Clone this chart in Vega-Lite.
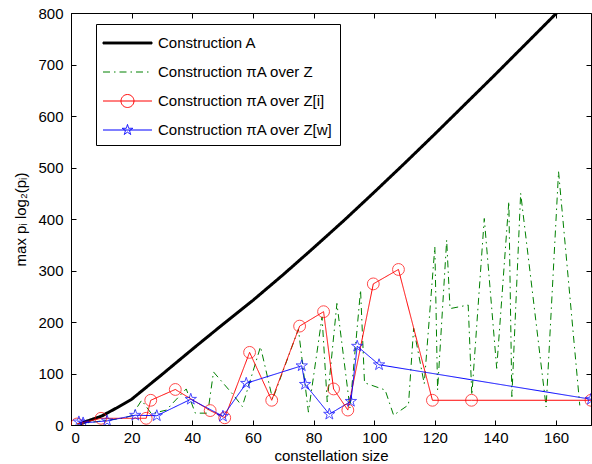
{
  "$schema": "https://vega.github.io/schema/vega-lite/v6.json",
  "width": 520,
  "height": 412,
  "autosize": "none",
  "padding": {"left": 71, "top": 13, "right": 1, "bottom": 39},
  "background": "white",
  "config": {
    "font": "Liberation Sans",
    "view": {"stroke": "black", "strokeWidth": 1},
    "axis": {"labelFontSize": 15, "titleFontSize": 15, "titleFontWeight": "normal", "labelColor": "black", "titleColor": "black", "tickColor": "black", "domainColor": "black", "grid": false, "tickSize": -5}
  },
  "data": {"values": [
    {"k":"A","x":3,"y":2},{"k":"A","x":5,"y":7},{"k":"A","x":10,"y":17},{"k":"A","x":15,"y":33},{"k":"A","x":20,"y":50},{"k":"A","x":30,"y":98},{"k":"A","x":40,"y":147},{"k":"A","x":50,"y":195},{"k":"A","x":60,"y":242},{"k":"A","x":70,"y":292},{"k":"A","x":80,"y":344},{"k":"A","x":90,"y":397},{"k":"A","x":100,"y":452},{"k":"A","x":110,"y":508},{"k":"A","x":120,"y":565},{"k":"A","x":130,"y":623},{"k":"A","x":140,"y":681},{"k":"A","x":150,"y":740},{"k":"A","x":160,"y":799},{"k":"A","x":170,"y":858},
    {"k":"Z","x":2,"y":2},{"k":"Z","x":5,"y":4},{"k":"Z","x":9,"y":7},{"k":"Z","x":13,"y":10},{"k":"Z","x":17,"y":13},{"k":"Z","x":20,"y":18},{"k":"Z","x":23.3,"y":48},{"k":"Z","x":26.5,"y":22},{"k":"Z","x":31.5,"y":29},{"k":"Z","x":33,"y":39},{"k":"Z","x":38,"y":70},{"k":"Z","x":41,"y":23},{"k":"Z","x":45.1,"y":23},{"k":"Z","x":47,"y":103},{"k":"Z","x":53.6,"y":58},{"k":"Z","x":56.5,"y":36},{"k":"Z","x":62.5,"y":152},{"k":"Z","x":66.5,"y":50},{"k":"Z","x":75,"y":186},{"k":"Z","x":78.3,"y":25},{"k":"Z","x":82.8,"y":210},{"k":"Z","x":84.5,"y":45},{"k":"Z","x":87.7,"y":236},{"k":"Z","x":92,"y":33},{"k":"Z","x":95.5,"y":262},{"k":"Z","x":96.8,"y":82},{"k":"Z","x":103.6,"y":68},{"k":"Z","x":106.4,"y":19},{"k":"Z","x":111.3,"y":39},{"k":"Z","x":113,"y":188},{"k":"Z","x":116.5,"y":80},{"k":"Z","x":120,"y":346},{"k":"Z","x":120.9,"y":68},{"k":"Z","x":123.9,"y":359},{"k":"Z","x":125,"y":226},{"k":"Z","x":131,"y":233},{"k":"Z","x":132.2,"y":58},{"k":"Z","x":136.3,"y":401},{"k":"Z","x":140.4,"y":110},{"k":"Z","x":144.4,"y":434},{"k":"Z","x":145.4,"y":55},{"k":"Z","x":148.3,"y":450},{"k":"Z","x":156.7,"y":35},{"k":"Z","x":160.8,"y":492},{"k":"Z","x":167.8,"y":38},
    {"k":"Zi","x":2,"y":2},{"k":"Zi","x":9.9,"y":13},{"k":"Zi","x":24.8,"y":13},{"k":"Zi","x":26.3,"y":48},{"k":"Zi","x":34.4,"y":69},{"k":"Zi","x":45.9,"y":28},{"k":"Zi","x":50.7,"y":14},{"k":"Zi","x":58.9,"y":141},{"k":"Zi","x":66.2,"y":48},{"k":"Zi","x":75.4,"y":192},{"k":"Zi","x":83.3,"y":220},{"k":"Zi","x":86.6,"y":70},{"k":"Zi","x":91.3,"y":29},{"k":"Zi","x":99.7,"y":274},{"k":"Zi","x":108,"y":302},{"k":"Zi","x":119.2,"y":48},{"k":"Zi","x":132.1,"y":48},{"k":"Zi","x":171.5,"y":48},
    {"k":"Zw","x":2.6,"y":6},{"k":"Zw","x":4,"y":4},{"k":"Zw","x":11.9,"y":8},{"k":"Zw","x":21.2,"y":19},{"k":"Zw","x":28.3,"y":18},{"k":"Zw","x":39.5,"y":50},{"k":"Zw","x":50.1,"y":17},{"k":"Zw","x":57.8,"y":81},{"k":"Zw","x":76.1,"y":115},{"k":"Zw","x":77.2,"y":79},{"k":"Zw","x":85.2,"y":21},{"k":"Zw","x":92.3,"y":46},{"k":"Zw","x":94.4,"y":153},{"k":"Zw","x":101.6,"y":117},{"k":"Zw","x":171.5,"y":50}
  ]},
  "resolve": {"axis": {"x": "independent", "y": "independent"}},
  "layer": [
    {
      "mark": {"type": "line", "clip": true},
      "encoding": {
        "x": {"field": "x", "type": "quantitative", "scale": {"domain": [0, 171.5], "nice": false, "zero": false},
              "axis": {"orient": "bottom", "values": [0,20,40,60,80,100,120,140,160], "labelPadding": 10, "title": "constellation size", "titlePadding": 3}},
        "y": {"field": "y", "type": "quantitative", "scale": {"domain": [0, 800], "nice": false},
              "axis": {"orient": "left", "values": [0,100,200,300,400,500,600,700,800], "labelPadding": 13, "title": "max pᵢ log₂(pᵢ)", "titlePadding": 9}},
        "color": {"field": "k", "type": "nominal",
          "scale": {"domain": ["A","Z","Zi","Zw"], "range": ["#000000","#008000","#ff0000","#0000ff"]},
          "legend": {
            "orient": "none", "legendX": 25, "legendY": 11, "title": null,
            "padding": 6.5, "strokeColor": "black", "fillColor": "white", "cornerRadius": 0,
            "rowPadding": 8, "labelOffset": 30.5, "labelFontSize": 15, "labelColor": "black", "labelLimit": 400,
            "symbolSize": 576, "symbolStrokeWidth": 1,
            "labelExpr": "datum.value === 'A' ? 'Construction A' : datum.value === 'Z' ? 'Construction πA over Z' : datum.value === 'Zi' ? 'Construction πA over Z[i]' : 'Construction πA over Z[w]'",
            "encoding": {
              "symbols": {
                "shape": {"value": {"expr": "datum.index === 0 ? 'M-1,-0.08H3.083V0.08H-1Z' : datum.index === 1 ? 'M-1,0H3.083' : datum.index === 2 ? 'M-1,0H3.083M1.58,0A0.54,0.54 0 1,1 0.5,0A0.54,0.54 0 1,1 1.58,0' : 'M-1,0H3.083M1.04,-0.46L1.143,-0.142L1.477,-0.142L1.207,0.054L1.31,0.372L1.04,0.176L0.77,0.372L0.873,0.054L0.603,-0.142L0.937,-0.142Z'"}},
                "fill": {"value": {"expr": "datum.index === 0 ? 'black' : 'transparent'"}},
                "stroke": {"value": {"expr": "datum.index === 0 ? '#000000' : datum.index === 1 ? '#008000' : datum.index === 2 ? '#ff0000' : '#0000ff'"}},
                "strokeDash": {"value": {"expr": "datum.index === 1 ? [7,4,1.5,4] : [1,0]"}}
              }
            }
          }},
        "strokeDash": {"field": "k", "type": "nominal", "legend": null,
          "scale": {"domain": ["A","Z","Zi","Zw"], "range": [[1,0],[7,4,1.5,4],[1,0],[1,0]]}},
        "strokeWidth": {"condition": {"test": "datum.k === 'A'", "value": 3}, "value": 1}
      }
    },
    {
      "transform": [{"filter": "datum.k === 'Zi'"}],
      "mark": {"type": "point", "shape": "circle", "filled": false, "stroke": "#ff0000", "strokeWidth": 1, "size": 140, "clip": true},
      "encoding": {
        "x": {"field": "x", "type": "quantitative", "axis": {"orient": "top", "labels": false, "domain": false, "title": null, "values": [0,20,40,60,80,100,120,140,160]}},
        "y": {"field": "y", "type": "quantitative", "axis": {"orient": "right", "labels": false, "domain": false, "title": null, "values": [0,100,200,300,400,500,600,700,800]}}
      }
    },
    {
      "transform": [{"filter": "datum.k === 'Zw'"}],
      "mark": {"type": "point", "shape": "M0,-1L0.2245,-0.309L0.951,-0.309L0.363,0.118L0.588,0.809L0,0.382L-0.588,0.809L-0.363,0.118L-0.951,-0.309L-0.2245,-0.309Z", "filled": false, "stroke": "#0000ff", "strokeWidth": 1, "size": 144, "clip": true},
      "encoding": {
        "x": {"field": "x", "type": "quantitative", "axis": null},
        "y": {"field": "y", "type": "quantitative", "axis": null}
      }
    }
  ]
}
